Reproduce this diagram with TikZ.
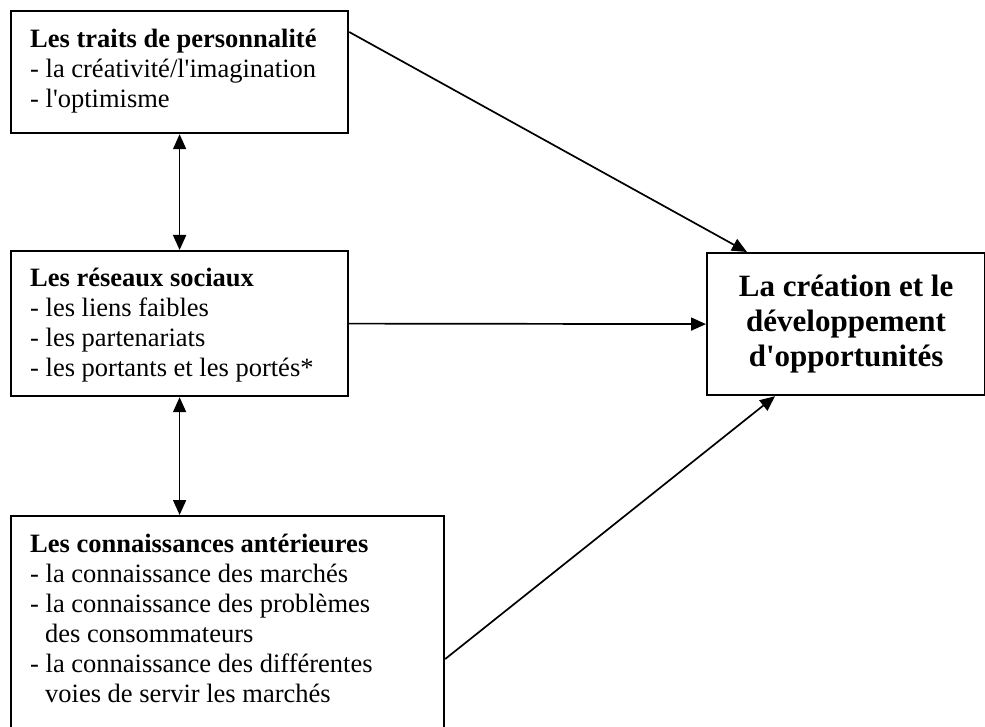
\documentclass[tikz,border=0pt]{standalone}
\usepackage{fontspec}
\setmainfont{Liberation Serif}[Ligatures=TeXOff]
\usetikzlibrary{arrows.meta,calc}
\begin{document}
\begin{tikzpicture}[x=1pt,y=-1pt,
  box/.style={draw=black,line width=2.2pt,inner sep=0pt,anchor=north west},
  body/.style={anchor=north west,inner sep=0pt,text width=420pt,align=flush left,
    font=\fontsize{26.5}{30}\selectfont},
  link/.style={line width=1.7pt,-{Triangle[length=15pt,width=13pt]}},
  both/.style={line width=1.7pt,{Triangle[length=15pt,width=13pt]}-{Triangle[length=15pt,width=13pt]}}]
\useasboundingbox (0,0) rectangle (985,727);
\clip (0,0) rectangle (985,727);

% left-hand boxes
\node[box,minimum width=337pt,minimum height=122pt] (b1) at (10,10) {};
\node[box,minimum width=337pt,minimum height=145pt] (b2) at (10,250) {};
\node[box,minimum width=433pt,minimum height=250pt] (b3) at (10,515) {};

% outcome box
\node[draw=black,line width=2.2pt,minimum width=278pt,minimum height=142pt,
  anchor=north west,align=flush center,inner sep=0pt,
  font=\bfseries\fontsize{31}{35}\selectfont] (b4) at (706,252)
  {La création et le\\développement\\d'opportunités};

% box contents
\node[body,anchor=base west] (t1) at (30,48)
  {\textbf{Les traits de personnalité}\\- la créativité/l'imagination\\- l'optimisme};
\node[body,anchor=base west] (t2) at (30,287)
  {\textbf{Les réseaux sociaux}\\- les liens faibles\\- les partenariats\\- les portants et les portés*};
\node[body,anchor=base west] (t3) at (30,552)
  {\textbf{Les connaissances antérieures}\\- la connaissance des marchés\\- la connaissance des problèmes\\\hspace*{15pt}des consommateurs\\- la connaissance des différentes\\\hspace*{15pt}voies de servir les marchés};

% connectors
\coordinate (s1) at ($(b1.north east)+(0,22)$);
\coordinate (e1) at ($(b4.north west)+(41,0)$);
\coordinate (s3) at ($(b3.north east)+(0,144)$);
\coordinate (e3) at ($(b4.south west)+(69,0)$);
\draw[link] (s1) -- (e1);
\draw[link] (b2.east) -- (b4.west);
\draw[link] (s3) -- (e3);
\draw[both] (b1.south) -- (b2.north);
\draw[both] (b2.south) -- (b2.south |- b3.north);
\end{tikzpicture}
\end{document}
